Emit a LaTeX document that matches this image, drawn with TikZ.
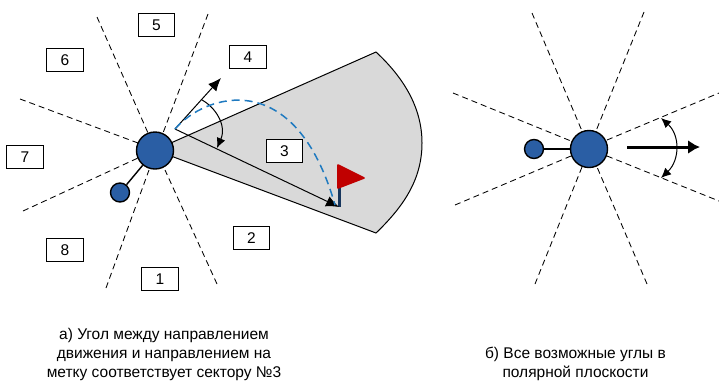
\documentclass[tikz,border=0pt]{standalone}
\usepackage{fontspec}
\setmainfont{Liberation Sans}
\usetikzlibrary{arrows.meta}
\definecolor{myblue}{HTML}{2A5EA4}
\definecolor{fan}{HTML}{D9D9D9}
\definecolor{pole}{HTML}{17365D}
\definecolor{flagred}{HTML}{C00000}
\definecolor{pathblue}{HTML}{1F7AC0}
\tikzset{
  dashln/.style={draw=black,line width=0.85pt,dash pattern=on 6pt off 4pt},
  numbox/.style={draw=black,fill=white,line width=0.9pt,minimum width=36.5pt,minimum height=23.5pt,inner sep=0pt,font=\fontsize{15.5}{18}\selectfont},
  bigc/.style={circle,draw=black,fill=myblue,line width=1.4pt,minimum size=37pt,inner sep=0pt},
  smallc/.style={circle,draw=black,fill=myblue,line width=1.4pt,minimum size=19pt,inner sep=0pt},
  captxt/.style={align=center,font=\fontsize{15.5}{19}\selectfont},
  thinarrow/.style={-{Latex[length=13pt,width=11pt]},line width=1pt},
  onearc/.style={-{Latex[length=10pt,width=9pt]},line width=1pt},
  twoarc/.style={{Latex[length=10pt,width=9pt]}-{Latex[length=10pt,width=9pt]},line width=1pt}
}
\begin{document}
\begin{tikzpicture}[x=1pt,y=-1pt]
\useasboundingbox (0,0) rectangle (719,381);
% fan
\draw[fill=fan,line width=1pt] (155,150) -- (376,52) .. controls (403,77) and (422,107) .. (422,143) .. controls (422,180) and (403,207) .. (376,233) -- cycle;
% left dashed lines
\draw[dashln] (97,17) -- (148,133);
\draw[dashln] (208,14) -- (163,133);
\draw[dashln] (106,288) -- (149,170);
\draw[dashln] (217,284) -- (165,170);
\draw[dashln] (20,99) -- (138,143);
\draw[dashln] (23,211) -- (138,158);
% left nodes
\node[bigc] (c1) at (155,150.5) {};
\node[smallc] (s1) at (120,192.5) {};
\draw[line width=1.4pt] (s1) -- (c1);
\node[numbox] (n5) at (156.5,25) {5};
\node[numbox] (n4) at (248,57) {4};
\node[numbox] (n6) at (65,60) {6};
\node[numbox] (n7) at (25,157) {7};
\node[numbox] (n3) at (284.5,151) {3};
\node[numbox] (n2) at (251.5,238) {2};
\node[numbox] (n8) at (65,250) {8};
\node[numbox] (n1) at (160,279) {1};
% flag
\coordinate (o) at (175,129);
\coordinate (dirend) at (221,78);
\coordinate (flagb) at (339,207);
\draw[line width=3pt,color=pole] (339,172) -- (flagb);
\fill[color=flagred,draw=flagred,line join=round,line width=1.6pt] (338,165) -- (364,178) -- (338,188) -- cycle;
% arrows
\draw[thinarrow] (o) -- (dirend);
\draw[thinarrow] (o) -- (flagb);
\draw[onearc] (202,100) .. controls (215,107) and (227,125) .. (217,148);
\draw[color=pathblue,line width=1.5pt,dash pattern=on 8pt off 5pt] (o) .. controls (205,94) and (295,65) .. (335,205);
% right
\draw[dashln] (532,13) -- (582,131);
\draw[dashln] (644,12) -- (596,131);
\draw[dashln] (535,284) -- (582,167);
\draw[dashln] (647,284) -- (597,167);
\draw[dashln] (453,93) -- (571,141);
\draw[dashln] (455,205) -- (571,156);
\draw[dashln] (607,140) -- (719,93);
\draw[dashln] (607,156) -- (719,201);
\node[bigc] (c2) at (589,149) {};
\node[smallc] (s2) at (534,149) {};
\draw[line width=1.4pt] (s2) -- (c2);
\coordinate (a1) at (627,147);
\coordinate (a2) at (700,147);
\draw[-{Latex[length=12pt,width=14pt]},line width=3pt] (a1) -- (a2);
\draw[twoarc] (661,118) .. controls (680,135) and (680,160) .. (661,178);
% captions
\node[captxt] (capa) at (164,354) {а) Угол между направлением\\движения и направлением на\\метку соответствует сектору №3};
\node[captxt] (capb) at (575.5,363.5) {б) Все возможные углы в\\полярной плоскости};
\end{tikzpicture}
\end{document}
